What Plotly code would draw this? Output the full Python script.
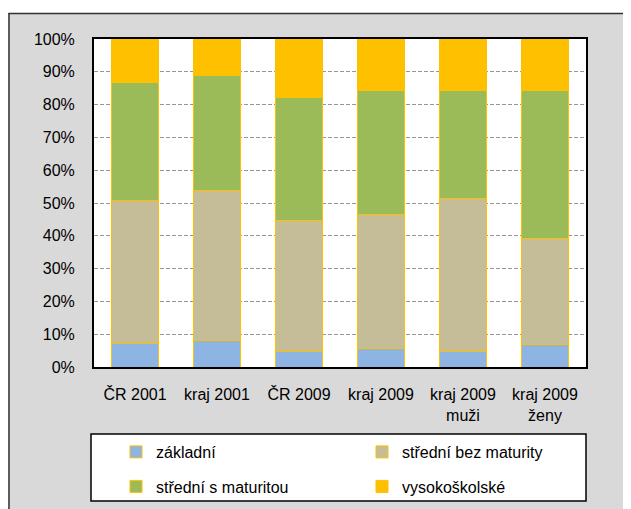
import plotly.graph_objects as go

categories = ["ČR 2001", "kraj 2001", "ČR 2009", "kraj 2009", "kraj 2009<br>muži", "kraj 2009<br>ženy"]

zakladni = [7.1, 8.0, 4.7, 5.6, 4.7, 6.8]
stredni_bez = [43.8, 45.9, 40.0, 41.0, 46.7, 32.5]
stredni_s = [35.7, 35.1, 37.6, 37.6, 32.8, 44.9]
vysokoskolske = [13.4, 11.0, 17.7, 15.8, 15.8, 15.8]

series_names = ["základní", "střední bez maturity", "střední s maturitou", "vysokoškolské"]
series_values = [zakladni, stredni_bez, stredni_s, vysokoskolske]
series_colors = ["#8EB4E3", "#C4BD97", "#9BBB59", "#FFC000"]

tick_vals = [0, 10, 20, 30, 40, 50, 60, 70, 80, 90, 100]
tick_text = ["0%", "10%", "20%", "30%", "40%", "50%", "60%", "70%", "80%", "90%", "100%"]

FONT = "Liberation Sans, Arial, sans-serif"

# page body has an 8px margin; work in window pixels and offset
OFF = 8
WIN_W, WIN_H = 631, 509
W, H = WIN_W - OFF, WIN_H - OFF
# plot area in window pixels
L, R, T, B = 94, 586, 39, 367
PW, PH = R - L, B - T


def px(x):
    return (x - L) / PW


def py(y):
    return (B - y) / PH


fig = go.Figure()
legend_ids = ["legend", "legend2", "legend3", "legend4"]
for name, vals, col, lid in zip(series_names, series_values, series_colors, legend_ids):
    fig.add_trace(go.Bar(
        x=categories, y=vals, name=name,
        marker=dict(color=col, line=dict(color="#FFC000", width=1)),
        legend=lid,
    ))

shapes = [
    # white strip above the chart frame
    dict(type="rect", xref="paper", yref="paper", x0=-0.4, x1=1.4, y0=py(13), y1=1.3,
         fillcolor="white", line=dict(width=0), layer="below"),
    # chart frame lines
    dict(type="line", xref="paper", yref="paper", x0=px(8.5), x1=1.4, y0=py(13.5), y1=py(13.5),
         line=dict(color="#333333", width=1.5), layer="below"),
    dict(type="line", xref="paper", yref="paper", x0=px(9), x1=px(9), y0=-0.6, y1=py(13),
         line=dict(color="#333333", width=1.5), layer="below"),
    # legend box
    dict(type="rect", xref="paper", yref="paper", x0=px(91), x1=px(586), y0=py(501), y1=py(434),
         fillcolor="white", line=dict(color="#000000", width=1.5), layer="below"),
]

leg_common = dict(orientation="h", bgcolor="rgba(0,0,0,0)", borderwidth=0,
                  font=dict(family=FONT, size=16, color="#000000"),
                  xanchor="left", yanchor="middle")
col1_x, col2_x = px(116), px(362)
row1_y, row2_y = py(452), py(486.5)

fig.update_layout(
    template="none",
    width=W, height=H,
    margin=dict(l=L - OFF, r=WIN_W - R, t=T - OFF, b=WIN_H - B, autoexpand=False),
    paper_bgcolor="#D9D9D9",
    plot_bgcolor="white",
    barmode="stack",
    bargap=0.415,
    font=dict(family=FONT, size=16, color="#000000"),
    showlegend=True,
    legend=dict(x=col1_x, y=row1_y, **leg_common),
    legend2=dict(x=col2_x, y=row1_y, **leg_common),
    legend3=dict(x=col1_x, y=row2_y, **leg_common),
    legend4=dict(x=col2_x, y=row2_y, **leg_common),
    shapes=shapes,
    xaxis=dict(
        showline=True, linecolor="#000000", linewidth=2, mirror=True,
        showgrid=False, ticks="", ticklabelstandoff=12,
        tickfont=dict(family=FONT, size=16, color="#000000"),
        automargin=False,
    ),
    yaxis=dict(
        range=[0, 100], tickvals=tick_vals, ticktext=tick_text,
        showline=True, linecolor="#000000", linewidth=2, mirror=True,
        showgrid=True, gridcolor="#969696", gridwidth=1, griddash="4px,2px",
        zeroline=False, ticks="", ticklabelstandoff=14,
        tickfont=dict(family=FONT, size=16, color="#000000"),
        automargin=False,
    ),
)

fig.write_html("out.html")
